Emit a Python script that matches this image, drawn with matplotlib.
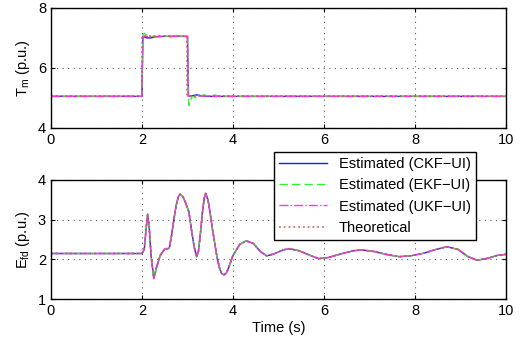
import numpy as np
import matplotlib.pyplot as plt
from matplotlib.ticker import MultipleLocator

# -------------------------------
# Data
# -------------------------------
# Mechanical torque Tm
t_tm_theo = [0, 2.0, 2.0, 3.0, 3.0, 10]
tm_theo = [5.05, 5.05, 7.05, 7.05, 5.05, 5.05]

t_tm_ckf = [0, 2.0, 2.02, 2.1, 2.2, 2.3, 2.5, 3.0, 3.02, 3.1, 3.2, 3.4, 10]
tm_ckf = [5.05, 5.05, 7.05, 7.0, 7.0, 7.04, 7.05, 7.05, 5.05, 5.07, 5.1, 5.05, 5.05]

t_tm_ekf = [0, 2.0, 2.02, 2.05, 2.1, 2.15, 2.6, 2.65, 2.75, 2.85, 3.0, 3.03, 3.1, 3.2,
            3.35, 3.5, 3.6, 3.7, 10]
tm_ekf = [5.05, 5.05, 7.1, 7.15, 7.1, 7.05, 7.05, 7.0, 7.08, 7.05, 7.05, 4.75, 5.05, 5.0,
          5.1, 5.05, 5.1, 5.05, 5.05]

t_tm_ukf = [0, 2.0, 2.02, 2.3, 2.5, 2.7, 3.0, 3.02, 3.2, 3.4, 10]
tm_ukf = [5.05, 5.05, 7.05, 7.03, 7.06, 7.05, 7.05, 5.05, 5.08, 5.05, 5.05]

# Field voltage Efd
t_efd = [0, 2.0, 2.05, 2.09, 2.125, 2.16, 2.2, 2.26, 2.32, 2.4, 2.5, 2.6, 2.65, 2.7,
         2.75, 2.8, 2.84, 2.9, 2.95, 3.03, 3.1, 3.15, 3.2, 3.24, 3.28, 3.33, 3.37,
         3.4, 3.45, 3.5, 3.55, 3.6, 3.65, 3.7, 3.75, 3.8, 3.85, 3.9, 4.0, 4.15, 4.29,
         4.45, 4.6, 4.74, 4.9, 5.1, 5.24, 5.45, 5.7, 5.88, 6.1, 6.4, 6.65, 6.83, 7.1,
         7.4, 7.65, 7.9, 8.2, 8.45, 8.7, 8.95, 9.15, 9.36, 9.6, 9.8, 10]
efd = [2.15, 2.15, 2.25, 2.75, 3.14, 2.8, 2.1, 1.52, 1.8, 2.1, 2.26, 2.28, 2.6, 3.0,
       3.35, 3.58, 3.64, 3.58, 3.45, 3.2, 2.65, 2.3, 2.07, 2.2, 2.6, 3.2, 3.55,
       3.66, 3.5, 3.15, 2.75, 2.4, 2.05, 1.8, 1.65, 1.61, 1.65, 1.78, 2.1, 2.38, 2.47,
       2.4, 2.2, 2.09, 2.14, 2.24, 2.27, 2.22, 2.1, 2.02, 2.05, 2.15, 2.22, 2.24, 2.2,
       2.12, 2.07, 2.09, 2.16, 2.25, 2.32, 2.25, 2.08, 1.98, 2.03, 2.1, 2.13]

labels = ['Estimated (CKF\u2212UI)', 'Estimated (EKF\u2212UI)',
          'Estimated (UKF\u2212UI)', 'Theoretical']

# -------------------------------
# Plot
# -------------------------------
plt.rcParams['font.family'] = ['Liberation Sans', 'DejaVu Sans']
plt.rcParams['mathtext.fontset'] = 'custom'
plt.rcParams['mathtext.rm'] = 'Liberation Sans'
plt.rcParams['font.size'] = 10.5

fig = plt.figure(figsize=(5.25, 3.42), dpi=100)
ax1 = fig.add_axes([0.097, 0.626, 0.867, 0.351])
ax2 = fig.add_axes([0.097, 0.125, 0.867, 0.349])

c_ckf = '#1a1aff'
c_ekf = '#33ee33'
c_ukf = '#ff33ff'
c_theo = '#c05a3a'

# Tm
ax1.plot(t_tm_ckf, tm_ckf, '-', color=c_ckf, lw=1.0)
ax1.plot(t_tm_ekf, tm_ekf, '--', color=c_ekf, lw=1.0, dashes=(6, 3))
ax1.plot(t_tm_ukf, tm_ukf, '-.', color=c_ukf, lw=1.0)
ax1.plot(t_tm_theo, tm_theo, ':', color=c_theo, lw=1.3, alpha=0.8)
ax1.set_ylim(4, 8)
ax1.set_ylabel('T$_\\mathrm{m}$ (p.u.)')

# Efd
l1, = ax2.plot(t_efd, efd, '-', color=c_ckf, lw=1.0)
l2, = ax2.plot(t_efd, efd, '--', color=c_ekf, lw=1.0, dashes=(6, 3))
l3, = ax2.plot(t_efd, efd, '-.', color=c_ukf, lw=1.0)
l4, = ax2.plot(t_efd, efd, ':', color=c_theo, lw=1.3, alpha=0.8)
ax2.set_ylim(1, 4)
ax2.set_ylabel('E$_\\mathrm{fd}$ (p.u.)')
ax2.set_xlabel('Time (s)', labelpad=2)

for ax in (ax1, ax2):
    ax.set_xlim(0, 10)
    ax.xaxis.set_major_locator(MultipleLocator(2))
    ax.yaxis.set_major_locator(MultipleLocator(1 if ax is ax2 else 2))
    ax.grid(True, linestyle=(0, (1, 4)), color='0.35', lw=0.8)
    ax.tick_params(direction='in', top=True, right=True, length=3, labelsize=10.5)
    for s in ax.spines.values():
        s.set_linewidth(1.0)

leg = ax2.legend([l1, l2, l3, l4], labels, loc='upper right',
                 bbox_to_anchor=(0.907, 0.556), bbox_transform=fig.transFigure,
                 borderaxespad=0, fancybox=False, framealpha=1, edgecolor='black',
                 handlelength=3.3, borderpad=0.35, labelspacing=0.5, handletextpad=0.8)
leg.get_frame().set_linewidth(1.0)

plt.savefig('out.png', dpi=100)
